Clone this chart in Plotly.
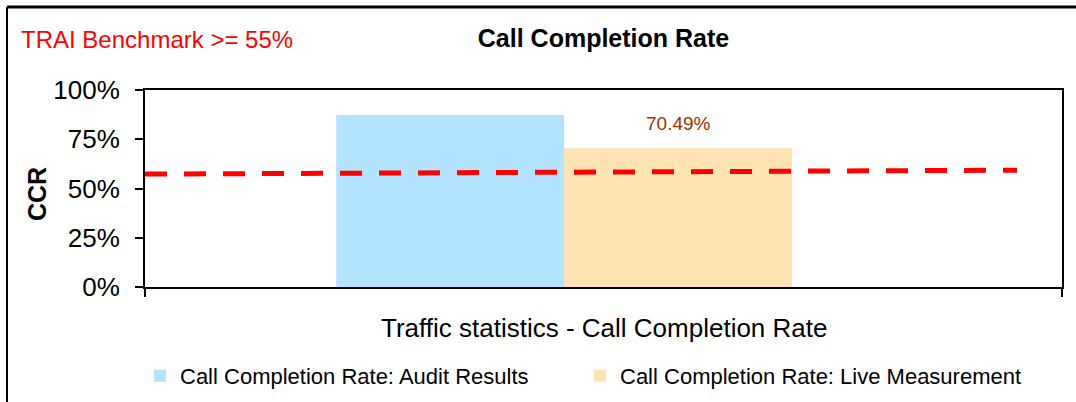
import plotly.graph_objects as go

# ---- data ----
category = ["Traffic statistics - Call Completion Rate"]
series_names = ["Call Completion Rate: Audit Results", "Call Completion Rate: Live Measurement"]
audit_values = [87.3]
live_values = [70.49]
benchmark_x = [0, 1]
benchmark_y = [57.3, 59.3]
y_tickvals = [0, 25, 50, 75, 100]
y_ticktext = ["0%", "25%", "50%", "75%", "100%"]

FONT = "Liberation Sans, Arial, sans-serif"

fig = go.Figure()
fig.add_trace(go.Bar(
    x=category, y=audit_values, name=series_names[0], legend="legend",
    marker=dict(color="#B3E3FF", line=dict(width=0)),
))
fig.add_trace(go.Bar(
    x=category, y=live_values, name=series_names[1], legend="legend2",
    marker=dict(color="#FFE3B3", line=dict(width=0)),
))
fig.add_trace(go.Scatter(
    x=benchmark_x, y=benchmark_y, xaxis="x2", mode="lines",
    line=dict(color="#FF0000", width=5, dash="22px,17px"),
    showlegend=False, hoverinfo="skip",
))

# data label on live measurement
fig.add_annotation(
    x=category[0], y=live_values[0], text=f"{live_values[0]:.2f}%",
    xref="x", yref="y", showarrow=False, xshift=114, yshift=12,
    yanchor="bottom", font=dict(family=FONT, size=19, color="#993300"),
)

W, H = 1076, 402
L, R, T, B = 145, 14, 90, 115
pw, ph = W - L - R, H - T - B

def px(x):
    return (x - L) / pw

def py(y):
    return (H - B - y) / ph

fig.add_annotation(
    text="TRAI Benchmark >= 55%", xref="paper", yref="paper",
    x=px(19), y=py(40), xanchor="left", yanchor="middle", showarrow=False,
    font=dict(family=FONT, size=24, color="#FF0000"),
)
fig.add_annotation(
    text="<b>CCR</b>", xref="paper", yref="paper", textangle=-90,
    x=px(37), y=py(194), xanchor="center", yanchor="middle", showarrow=False,
    font=dict(family=FONT, size=25, color="#000000"),
)
fig.add_annotation(
    text="Traffic statistics - Call Completion Rate", xref="paper", yref="paper",
    x=0.5, y=py(328), xanchor="center", yanchor="middle", showarrow=False,
    font=dict(family=FONT, size=26, color="#000000"),
)

# outer frame (top and left edges visible)
fig.add_shape(type="line", xref="paper", yref="paper", x0=px(7), x1=px(1076),
              y0=py(7), y1=py(7), line=dict(color="black", width=3))
fig.add_shape(type="line", xref="paper", yref="paper", x0=px(7), x1=px(7),
              y0=py(7), y1=py(402), line=dict(color="black", width=2))

legend_style = dict(
    orientation="h", xanchor="left", y=py(376), yanchor="middle",
    font=dict(family=FONT, size=22, color="black"),
    bgcolor="rgba(0,0,0,0)", itemwidth=30,
)

fig.update_layout(
    width=W, height=H,
    margin=dict(l=L, r=R, t=T, b=B, autoexpand=False),
    paper_bgcolor="white", plot_bgcolor="white",
    barmode="group", bargap=0.503, bargroupgap=0,
    title=dict(text="<b>Call Completion Rate</b>", x=0.5, xref="paper",
               y=1 - 38 / H, yanchor="middle",
               font=dict(family=FONT, size=25, color="black")),
    font=dict(family=FONT, color="black"),
    xaxis=dict(
        type="category", range=[-0.457, 0.543], showticklabels=False,
        showline=True, linecolor="black", linewidth=2, mirror=True,
        ticks="", showgrid=False, zeroline=False,
    ),
    xaxis2=dict(
        overlaying="x", side="bottom", range=[0, 1.0516],
        tickvals=[0, 1.0516], showticklabels=False, ticks="outside",
        ticklen=9, tickwidth=2, tickcolor="black",
        showline=False, showgrid=False, zeroline=False,
    ),
    yaxis=dict(
        range=[0, 100], tickvals=y_tickvals, ticktext=y_ticktext,
        ticks="outside", ticklen=8, tickwidth=2, tickcolor="black",
        showline=True, linecolor="black", linewidth=2, mirror=True,
        showgrid=False, zeroline=False, ticklabelstandoff=10,
        tickfont=dict(family=FONT, size=26, color="black"),
    ),
    legend=dict(x=px(140), **legend_style),
    legend2=dict(x=px(580), **legend_style),
    showlegend=True,
)

fig.write_html(
    "out.html",
    config={"displayModeBar": False},
    post_script="document.body.style.margin='0';document.body.style.overflow='hidden';",
)
